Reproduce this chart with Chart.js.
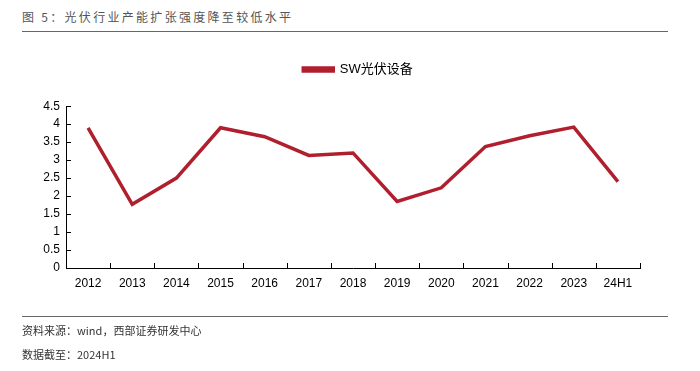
<!DOCTYPE html>
<html>
<head>
<meta charset="utf-8">
<script src="https://cdn.jsdelivr.net/npm/chart.js@4"></script>
<style>
  body { margin: 0; background: #fff; }
  #wrap { position: relative; width: 700px; height: 371px; overflow: hidden; font-family: "Noto Sans CJK SC", "Liberation Sans", sans-serif; }
  #chart { position: absolute; left: 0; top: 0; }
  .title { position: absolute; left: 22px; top: 8px; font-size: 12px; color: #555; letter-spacing: 2.3px; }
  .rule { position: absolute; left: 22px; width: 646px; height: 1px; background: #666; }
  .note { position: absolute; left: 22px; font-size: 11px; color: #333; }
</style>
</head>
<body>
<div id="wrap">
  <div class="title">图 5：光伏行业产能扩张强度降至较低水平</div>
  <div class="rule" style="top:31px"></div>
  <canvas id="chart" width="700" height="371"></canvas>
  <div class="rule" style="top:316px"></div>
  <div class="note" style="top:322px">资料来源：wind，西部证券研发中心</div>
  <div class="note" style="top:346px">数据截至：2024H1</div>
</div>
<script>
// 数据
const years = ['2012', '2013', '2014', '2015', '2016', '2017', '2018', '2019', '2020', '2021', '2022', '2023', '24H1'];
const swPv = [3.9, 1.77, 2.5, 3.9, 3.65, 3.13, 3.2, 1.85, 2.23, 3.38, 3.68, 3.92, 2.4];
const yTicks = [0, 0.5, 1, 1.5, 2, 2.5, 3, 3.5, 4, 4.5];

// 刻度线画在坐标轴内侧
const innerTicks = {
    id: 'innerTicks',
    afterDraw(chart) {
        const ctx = chart.ctx;
        const x = chart.scales.x, y = chart.scales.y;
        ctx.save();
        ctx.strokeStyle = '#000';
        ctx.lineWidth = 1;
        ctx.beginPath();
        yTicks.forEach(v => {
            const py = Math.round(y.getPixelForValue(v)) + 0.5;
            ctx.moveTo(x.left, py);
            ctx.lineTo(x.left + 5, py);
        });
        const step = (x.right - x.left) / years.length;
        for (let i = 1; i <= years.length; i++) {
            const px = Math.round(x.getPixelForValue(i - 1) + step / 2) + 0.5;
            ctx.moveTo(px, y.bottom);
            ctx.lineTo(px, y.bottom - 5);
        }
        ctx.stroke();
        ctx.restore();
    }
};

const ctx = document.getElementById('chart').getContext('2d');
new Chart(ctx, {
    type: 'line',
    data: {
        labels: years,
        datasets: [{
            label: 'SW光伏设备',
            data: swPv,
            borderColor: '#B01F2E',
            backgroundColor: '#B01F2E',
            borderWidth: 3.5,
            pointRadius: 0,
            tension: 0
        }]
    },
    options: {
        responsive: false,
        animation: false,
        layout: { padding: { top: 35, left: 26, right: 10, bottom: 73 } },
        plugins: {
            tooltip: { enabled: false },
            legend: {
                labels: {
                    boxWidth: 30, boxHeight: 3, padding: 28,
                    color: '#000',
                    font: { size: 13, family: 'Liberation Sans, Noto Sans CJK SC' }
                }
            },
            // 图例和绘图区之间的空白
            subtitle: {
                display: true, text: '', weight: 500,
                font: { size: 1 },
                padding: { top: 0, bottom: 19 }
            }
        },
        scales: {
            x: {
                offset: true,
                grid: { display: false, drawTicks: false },
                border: { color: '#000', width: 1 },
                ticks: { color: '#000', padding: 8, font: { size: 12, family: 'Liberation Sans' }, maxRotation: 0 },
                afterFit(s) { s.height = 30; s.paddingRight = 60; }
            },
            y: {
                min: 0, max: 4.5,
                afterBuildTicks(s) { s.ticks = yTicks.map(v => ({ value: v })); },
                grid: { display: false, drawTicks: false },
                border: { color: '#000', width: 1 },
                ticks: {
                    color: '#000', padding: 6,
                    font: { size: 12, family: 'Liberation Sans' },
                    callback: v => String(v)
                },
                afterFit(s) { s.width = 40; }
            }
        }
    },
    plugins: [innerTicks]
});
</script>
</body>
</html>
